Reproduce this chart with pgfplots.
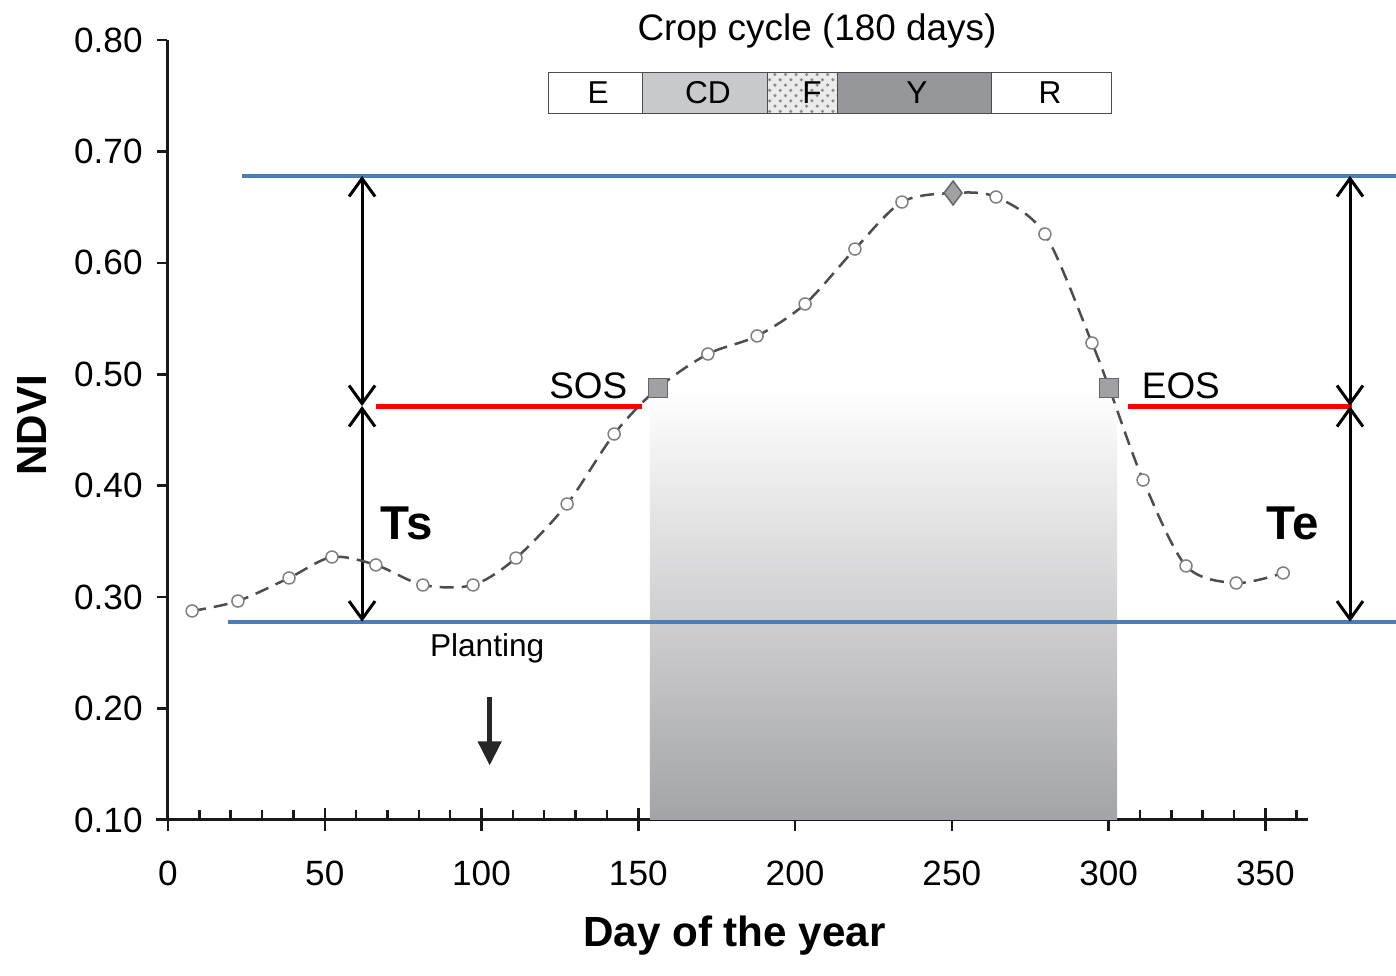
\documentclass[border=0pt]{standalone}
\usepackage{fontspec}
\setmainfont{Liberation Sans}
\usepackage{pgfplots}
\pgfplotsset{compat=1.18}
\usetikzlibrary{arrows.meta,patterns}

\definecolor{lineblue}{HTML}{4A7EBB}
\definecolor{curvegray}{HTML}{4D4D4D}
\definecolor{markgray}{HTML}{A0A1A5}
\definecolor{shadegray}{HTML}{A3A4A7}
\definecolor{cdgray}{HTML}{C8C9CB}
\definecolor{ygray}{HTML}{96979A}

\begin{document}
\begin{tikzpicture}
\useasboundingbox (-1.68,-1.56) rectangle (12.28,8.20);
\begin{axis}[
    at={(0,0)}, anchor=south west,
    scale only axis,
    width=11.4cm, height=7.8cm,
    xmin=0, xmax=363.6,
    ymin=0.1, ymax=0.8,
    axis x line*=bottom,
    axis y line*=left,
    axis line style={line width=0.3mm, black!90},
    clip=false,
    tick align=inside,
    major tick length=1.0mm,
    % small day ticks every 10 days, no labels
    xtick={10,20,30,40,60,70,80,90,110,120,130,140,160,170,180,190,210,220,230,240,260,270,280,290,310,320,330,340,360},
    xticklabel={\relax},
    % long labelled ticks every 50 days
    extra x ticks={0,50,100,150,200,250,300,350},
    extra x tick labels={0,50,100,150,200,250,300,350},
    extra x tick style={major tick length=2.3mm, tick align=center},
    ytick={0.1,0.2,0.3,0.4,0.5,0.6,0.7,0.8},
    major y tick style={xshift=-1.1mm},
    tick style={line width=0.25mm, black!90},
    /pgf/number format/assume math mode=true,
    y tick label style={/pgf/number format/fixed, /pgf/number format/fixed zerofill, /pgf/number format/precision=2},
    yticklabel style={font=\fontsize{10}{12}\selectfont, xshift=-1.3mm},
    xticklabel style={font=\fontsize{10}{12}\selectfont, yshift=-1.7mm},
    xlabel={Day of the year},
    ylabel={NDVI},
    every axis x label/.style={at={(rel axis cs:0.497,0)}, yshift=-11.6mm, anchor=center, font=\fontsize{12}{14}\selectfont\bfseries},
    every axis y label/.style={at={(rel axis cs:0,0.506)}, xshift=-13.6mm, anchor=center, rotate=90, font=\fontsize{12}{14}\selectfont\bfseries},
]

% shaded growing season
\addplot[draw=none, top color=white, bottom color=shadegray]
    coordinates {(153.7,0.1) (302.7,0.1) (302.7,0.487) (153.7,0.487)} -- cycle;

% thresholds
\addplot[lineblue, line width=0.4mm] coordinates {(23.6,0.678) (391.7,0.678)};
\addplot[lineblue, line width=0.4mm] coordinates {(19.1,0.278) (391.7,0.278)};
\addplot[red, line width=0.5mm] coordinates {(66.3,0.4715) (151.1,0.4715)};
\addplot[red, line width=0.5mm] coordinates {(306.2,0.4715) (377.7,0.4715)};

% double arrows
\addplot[black, line width=0.3mm, {Straight Barb[length=1.8mm,width=2.6mm]}-{Straight Barb[length=1.8mm,width=2.6mm]}]
    coordinates {(61.9,0.678) (61.9,0.4715)};
\addplot[black, line width=0.3mm, {Straight Barb[length=1.8mm,width=2.6mm]}-{Straight Barb[length=1.8mm,width=2.6mm]}]
    coordinates {(61.9,0.4715) (61.9,0.278)};
\addplot[black, line width=0.3mm, {Straight Barb[length=1.8mm,width=2.6mm]}-{Straight Barb[length=1.8mm,width=2.6mm]}]
    coordinates {(377.0,0.678) (377.0,0.4715)};
\addplot[black, line width=0.3mm, {Straight Barb[length=1.8mm,width=2.6mm]}-{Straight Barb[length=1.8mm,width=2.6mm]}]
    coordinates {(377.0,0.4715) (377.0,0.278)};

% planting arrow
\addplot[black!85, line width=0.45mm, -{Triangle[length=2.4mm,width=2.3mm]}]
    coordinates {(102.6,0.2104) (102.6,0.149)};

% NDVI curve
\addplot[curvegray, line width=0.25mm, smooth, dash pattern=on 1.4mm off 0.8mm] coordinates {
    (7.7,0.2876) (22.3,0.2965) (38.6,0.3172) (52.3,0.3360) (66.3,0.3289)
    (81.3,0.3109) (97.3,0.3109) (111.0,0.3351) (127.3,0.3836) (142.3,0.4464)
    (156.3,0.4877) (172.2,0.5182) (187.9,0.5344) (203.2,0.5631) (219.1,0.6124)
    (234.1,0.6546) (250.4,0.6627) (264.1,0.6591) (279.7,0.6259) (294.7,0.5281)
    (300.2,0.4877) (311.0,0.4051) (324.7,0.3280) (340.7,0.3127) (355.7,0.3217)
};
\addplot[only marks, mark=*, mark size=0.6mm, mark options={fill=white, draw=gray, line width=0.15mm}] coordinates {
    (7.7,0.2876) (22.3,0.2965) (38.6,0.3172) (52.3,0.3360) (66.3,0.3289)
    (81.3,0.3109) (97.3,0.3109) (111.0,0.3351) (127.3,0.3836) (142.3,0.4464)
    (172.2,0.5182) (187.9,0.5344) (203.2,0.5631) (219.1,0.6124)
    (234.1,0.6546) (264.1,0.6591) (279.7,0.6259) (294.7,0.5281)
    (311.0,0.4051) (324.7,0.3280) (340.7,0.3127) (355.7,0.3217)
};
\addplot[only marks, mark=square*, mark size=0.95mm, mark options={fill=markgray, draw=gray!80!black, line width=0.15mm}]
    coordinates {(156.3,0.4877) (300.2,0.4877)};
\addplot[only marks, mark=diamond*, mark size=1.2mm, mark options={fill=markgray, draw=gray!80!black, line width=0.15mm}]
    coordinates {(250.4,0.6627)};

% crop cycle bar
\addplot[fill=white, draw=black!70, line width=0.15mm] coordinates {(121.4,0.734) (151.4,0.734) (151.4,0.771) (121.4,0.771)} -- cycle;
\addplot[fill=cdgray, draw=black!70, line width=0.15mm] coordinates {(151.4,0.734) (191.2,0.734) (191.2,0.771) (151.4,0.771)} -- cycle;
\addplot[fill=black!8, draw=none] coordinates {(191.2,0.734) (213.5,0.734) (213.5,0.771) (191.2,0.771)} -- cycle;
\addplot[pattern=crosshatch dots, pattern color=black!45, draw=black!70, line width=0.15mm] coordinates {(191.2,0.734) (213.5,0.734) (213.5,0.771) (191.2,0.771)} -- cycle;
\addplot[fill=ygray, draw=black!70, line width=0.15mm] coordinates {(213.5,0.734) (262.6,0.734) (262.6,0.771) (213.5,0.771)} -- cycle;
\addplot[fill=white, draw=black!70, line width=0.15mm] coordinates {(262.6,0.734) (300.9,0.734) (300.9,0.771) (262.6,0.771)} -- cycle;

\node[font=\fontsize{9}{10}\selectfont] at (axis cs:137.2,0.7524) {E};
\node[font=\fontsize{9}{10}\selectfont] at (axis cs:172.2,0.7524) {CD};
\node[font=\fontsize{9}{10}\selectfont] at (axis cs:205.4,0.7524) {F};
\node[font=\fontsize{9}{10}\selectfont] at (axis cs:238.9,0.7524) {Y};
\node[font=\fontsize{9}{10}\selectfont] at (axis cs:281.3,0.7524) {R};
\node[font=\fontsize{10.5}{12}\selectfont] at (axis cs:207,0.808) {Crop cycle (180 days)};

% labels
\node[anchor=base east, inner sep=0pt, font=\fontsize{10.5}{12}\selectfont] at (axis cs:146.7,0.4787) {SOS};
\node[anchor=base west, inner sep=0pt, font=\fontsize{10.5}{12}\selectfont] at (axis cs:310.4,0.4787) {EOS};
\node[anchor=base west, inner sep=0pt, font=\fontsize{13.5}{15}\selectfont\bfseries] at (axis cs:67.6,0.3513) {Ts};
\node[anchor=base west, inner sep=0pt, font=\fontsize{13.5}{15}\selectfont\bfseries] at (axis cs:350.2,0.3513) {Te};
\node[anchor=base, inner sep=0pt, font=\fontsize{9}{11}\selectfont] at (axis cs:101.8,0.2463) {Planting};

% small stub of x axis left of origin
\draw[line width=0.3mm, black!90] (axis cs:-3.8,0.1) -- (axis cs:0,0.1);
\end{axis}
\end{tikzpicture}
\end{document}
